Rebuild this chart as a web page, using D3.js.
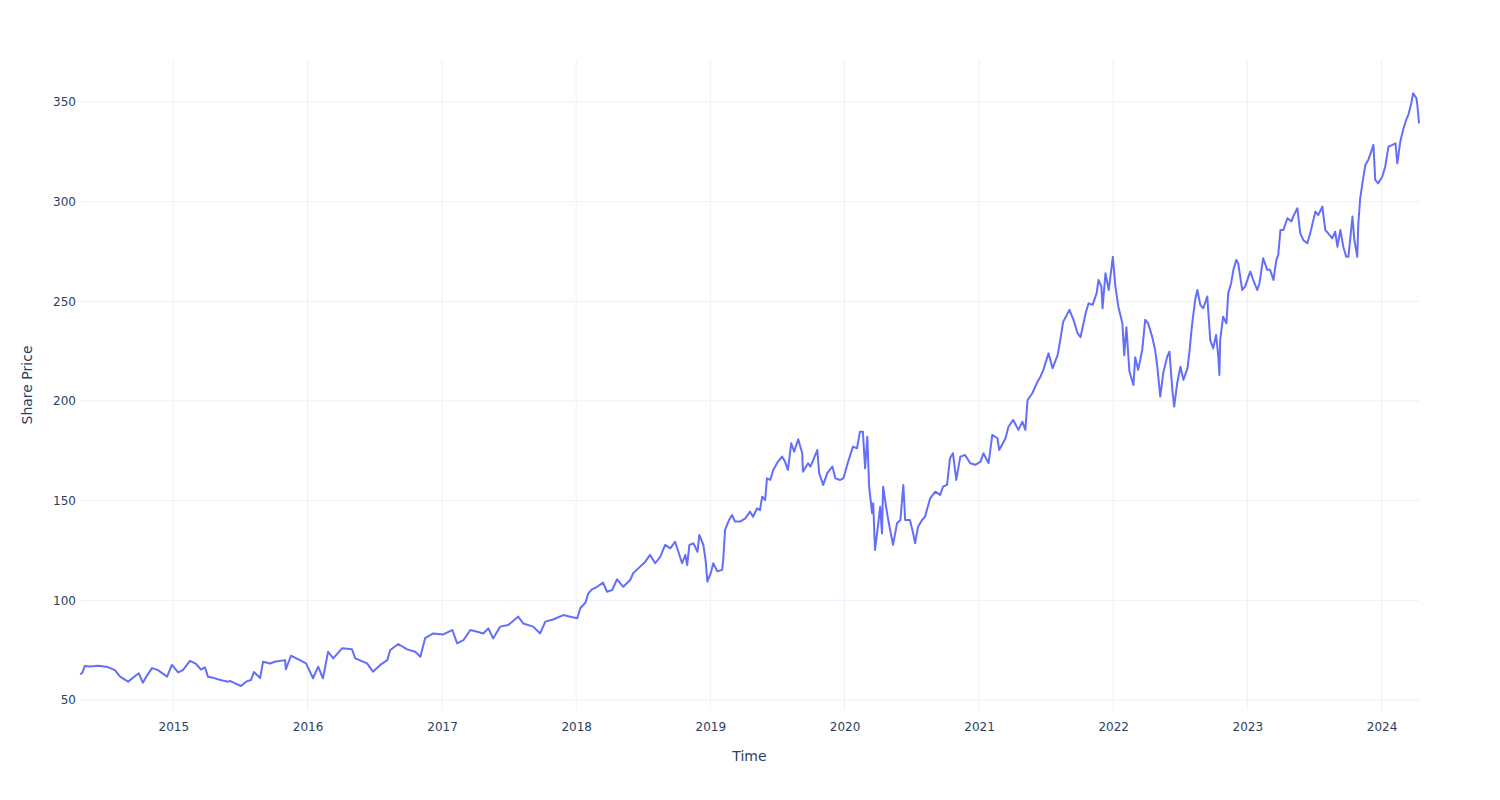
<!DOCTYPE html>
<html>
<head>
<meta charset="utf-8">
<script src="https://cdn.jsdelivr.net/npm/d3@7"></script>
<style>
  body { margin: 0; background: #fff; }
  text { font-family: "DejaVu Sans", verdana, arial, sans-serif; fill: #2a3f5f; }
</style>
</head>
<body>
<div id="app"></div>
<script>
// 日期 (读自图片)
const dates = [
  "2014-04-22","2014-04-28","2014-05-05","2014-05-20","2014-06-10","2014-07-07","2014-07-26","2014-08-09","2014-08-31","2014-09-19","2014-09-29","2014-10-10","2014-10-22","2014-11-04","2014-11-20","2014-12-15","2014-12-28",
  "2015-01-14","2015-01-27","2015-02-15","2015-03-03","2015-03-17","2015-03-28","2015-04-05","2015-04-18","2015-05-02","2015-05-15","2015-05-30","2015-06-05","2015-06-18","2015-07-04","2015-07-18","2015-07-31","2015-08-08","2015-08-25","2015-09-02","2015-09-21","2015-10-04","2015-11-01","2015-11-03","2015-11-17","2015-12-06","2015-12-28",
  "2016-01-16","2016-01-30","2016-02-12","2016-02-26","2016-03-11","2016-04-04","2016-05-01","2016-05-10","2016-06-11","2016-06-27","2016-07-17","2016-08-05","2016-08-13","2016-09-04","2016-09-28","2016-10-20","2016-11-03","2016-11-16","2016-12-08",
  "2017-01-04","2017-01-29","2017-02-11","2017-02-28","2017-03-19","2017-04-07","2017-04-23","2017-05-07","2017-05-20","2017-06-08","2017-06-30","2017-07-27","2017-08-10","2017-09-06","2017-09-25","2017-10-09","2017-10-30","2017-11-27","2017-12-16",
  "2018-01-04","2018-01-12","2018-01-26","2018-02-03","2018-02-13","2018-02-27","2018-03-15","2018-03-26","2018-04-09","2018-04-22","2018-05-09","2018-05-28","2018-06-05","2018-06-24","2018-07-08","2018-07-21","2018-08-04","2018-08-18","2018-08-31","2018-09-14","2018-09-27","2018-10-06","2018-10-16","2018-10-25","2018-10-30","2018-11-05","2018-11-16","2018-11-27","2018-12-02","2018-12-13","2018-12-19","2018-12-24",
  "2019-01-02","2019-01-09","2019-01-20","2019-02-02","2019-02-05","2019-02-10","2019-02-21","2019-03-01","2019-03-09","2019-03-23","2019-04-06","2019-04-19","2019-04-27","2019-05-08","2019-05-16","2019-05-22","2019-05-30","2019-06-04","2019-06-13","2019-06-21","2019-07-04","2019-07-15","2019-07-23","2019-07-31","2019-08-09","2019-08-17","2019-08-28","2019-09-08","2019-09-10","2019-09-24","2019-09-30","2019-10-08","2019-10-19","2019-10-24","2019-11-04","2019-11-15","2019-11-29","2019-12-07","2019-12-20","2019-12-29",
  "2020-01-11","2020-01-24","2020-02-04","2020-02-12","2020-02-20","2020-02-26","2020-03-03","2020-03-08","2020-03-16","2020-03-19","2020-03-24","2020-04-02","2020-04-07","2020-04-12","2020-04-15","2020-04-23","2020-04-29","2020-05-12","2020-05-23","2020-06-01","2020-06-09","2020-06-14","2020-06-27","2020-07-06","2020-07-11","2020-07-19","2020-07-30","2020-08-07","2020-08-21","2020-09-04","2020-09-17","2020-09-25","2020-10-06","2020-10-14","2020-10-22","2020-10-31","2020-11-11","2020-11-24","2020-12-08","2020-12-22",
  "2021-01-05","2021-01-13","2021-01-27","2021-02-06","2021-02-20","2021-02-25","2021-03-14","2021-03-22","2021-04-04","2021-04-18","2021-04-29","2021-05-07","2021-05-13","2021-05-26","2021-06-09","2021-06-17","2021-06-25","2021-07-09","2021-07-20","2021-08-03","2021-08-10","2021-08-18","2021-09-04","2021-09-15","2021-09-26","2021-10-04","2021-10-18","2021-10-26","2021-11-06","2021-11-17","2021-11-22","2021-11-30","2021-12-03","2021-12-11","2021-12-20","2021-12-31",
  "2022-01-07","2022-01-15","2022-01-26","2022-01-31","2022-02-06","2022-02-14","2022-02-25","2022-03-02","2022-03-10","2022-03-21","2022-03-29","2022-04-06","2022-04-17","2022-04-25","2022-05-01","2022-05-09","2022-05-17","2022-05-28","2022-06-03","2022-06-11","2022-06-16","2022-06-24","2022-07-03","2022-07-11","2022-07-22","2022-07-27","2022-08-04","2022-08-12","2022-08-18","2022-08-26","2022-09-03","2022-09-14","2022-09-22","2022-09-30","2022-10-08","2022-10-14","2022-10-17","2022-10-19","2022-10-27","2022-11-05","2022-11-10","2022-11-18","2022-11-24","2022-12-02","2022-12-07","2022-12-18","2022-12-26",
  "2023-01-04","2023-01-09","2023-01-17","2023-01-28","2023-02-03","2023-02-13","2023-02-24","2023-03-04","2023-03-13","2023-03-21","2023-03-26","2023-04-01","2023-04-09","2023-04-20","2023-05-01","2023-05-06","2023-05-17","2023-05-25","2023-06-02","2023-06-13","2023-06-21","2023-07-05","2023-07-13","2023-07-24","2023-08-01","2023-08-09","2023-08-20","2023-08-28","2023-09-03","2023-09-11","2023-09-19","2023-09-27","2023-10-03","2023-10-14","2023-10-19","2023-10-27","2023-10-30","2023-11-04","2023-11-10","2023-11-18","2023-11-26","2023-12-04","2023-12-10","2023-12-15","2023-12-23",
  "2024-01-03","2024-01-11","2024-01-20","2024-01-31","2024-02-08","2024-02-13","2024-02-21","2024-02-29","2024-03-08","2024-03-14","2024-03-22","2024-03-27","2024-04-05","2024-04-08","2024-04-12"
];

// 股价
const prices = [
  63,63.5,67,66.8,67.2,66.5,65,61.7,59.2,62,63.4,58.7,62.5,66,65,61.7,67.6,
  63.9,65,69.6,68.2,65.3,66.4,61.7,61.2,60.4,59.8,59.2,59.5,58.3,57,59.2,60,64,61,69.2,68.3,69.2,70,65.4,72.2,70.5,68.4,
  60.9,66.7,60.9,74.2,70.9,75.9,75.4,70.9,68.4,64.2,67.6,70,75.1,78.1,75.4,74.2,71.7,81,83.4,
  82.9,85.1,78.4,80,85.1,84.2,83.4,85.9,80.9,86.8,87.6,91.8,88.4,86.8,83.4,89.3,90.4,92.6,91.8,
  91,96,98.8,103.5,105.5,106.8,108.9,104.3,105.2,110.5,106.8,110.2,113.6,116.9,119.4,122.8,118.6,121.9,127.8,126.1,129.4,124.4,118.6,122.8,117.7,127.8,128.6,124.4,132.8,127.8,120.2,109.4,
  113.6,118.6,114.5,115.3,120.2,135.3,140.3,142.8,139.5,139.5,141.1,144.5,141.9,146.1,145.3,152,150.3,161.2,160.4,165.4,169.6,172.1,169.6,165.4,178.8,174.6,180.8,173.8,164.5,168.8,167.1,170.4,175.4,163.8,157.9,163.8,167.1,161.2,160.4,161.2,
  169.6,177.1,176.3,184.6,184.6,166.2,182.1,157,143.7,148.7,125.3,138.7,147,133.5,157,147,140.3,127.8,138.7,140.3,157.9,140.3,140.3,133.5,128.6,136.9,140.3,142,151.2,154.5,152.9,157,157.9,171.3,173.8,160.4,172.1,172.9,168.8,168,
  169.6,173.8,168.8,183,181.3,175.4,181.3,187.1,190.5,185.5,189.6,185.5,200.5,203.9,209.7,212.2,215.6,223.9,216.4,223.1,230.6,239.8,245.7,240.7,234,232,244,249,248.2,254.1,260.7,257.4,246.5,264.1,255.7,272.3,
  257.4,247.3,239,223,237,215,208,222,215.6,225.6,240.7,239,232.3,225.6,217.2,202.2,213.9,222.3,224.8,205.5,197.2,208.9,217.2,210.6,216.4,223.9,239,250.7,255.7,248.2,246.5,252.4,230.6,226.4,233.1,222.3,213.1,230.6,242.3,239,254.1,259.1,265.8,270.8,269.1,255.7,257.4,
  262.4,264.9,260.7,255.7,259.1,271.6,265.8,265.8,260.7,270.8,273.3,285.8,285.8,291.7,290.1,292.6,296.7,284.1,280.8,279.1,284.1,295,293.3,297.5,285.8,284.1,281.6,284.9,277.4,285.8,277.4,272.4,272.4,292.5,280.8,272.4,289.2,301.7,309.2,318.4,320.9,325.1,328.5,310.9,309.2,
  312.5,317.5,327.6,328.5,329.3,319.2,330.1,336.2,341,343.5,349.4,354.4,351.9,347.7,339.3
];

// 刻度
const yTicks = [50, 100, 150, 200, 250, 300, 350];
const xTicks = ["2015","2016","2017","2018","2019","2020","2021","2022","2023","2024"];

const parse = d3.timeParse("%Y-%m-%d");
const parseYear = d3.timeParse("%Y");
const data = dates.map((d, i) => ({ date: parse(d), price: prices[i] }));

const wrapper = { width: 1500, height: 800 };
const margin = { left: 80, top: 60, right: 81, bottom: 90 };
const bounds = {
  width: wrapper.width - margin.left - margin.right,
  height: wrapper.height - margin.top - margin.bottom
};

const svg = d3.select('#app')
  .append('svg')
    .attr('width', wrapper.width)
    .attr('height', wrapper.height)

const g = svg.append('g')
  .attr('transform', `translate(${margin.left}, ${margin.top})`)

const x = d3.scaleTime()
  .domain(d3.extent(data, d => d.date))
  .range([0, bounds.width])

const y = d3.scaleLinear()
  .domain([44.98, 371.07])
  .range([bounds.height, 0])

// 网格
g.append('g')
  .selectAll('line')
  .data(xTicks)
  .join('line')
    .attr('x1', d => x(parseYear(d)))
    .attr('x2', d => x(parseYear(d)))
    .attr('y1', 0)
    .attr('y2', bounds.height)
    .attr('stroke', '#ebf0f8')

g.append('g')
  .selectAll('line')
  .data(yTicks)
  .join('line')
    .attr('x1', 0)
    .attr('x2', bounds.width)
    .attr('y1', d => y(d))
    .attr('y2', d => y(d))
    .attr('stroke', '#ebf0f8')

// 坐标轴
const xAxis = d3.axisBottom(x)
  .tickValues(xTicks.map(parseYear))
  .tickFormat(d3.timeFormat("%Y"))
  .tickSize(0)
  .tickPadding(12)

const yAxis = d3.axisLeft(y)
  .tickValues(yTicks)
  .tickSize(0)
  .tickPadding(4)

g.append('g')
  .attr('transform', `translate(0, ${bounds.height})`)
  .call(xAxis)
  .call(s => s.select('.domain').remove())
  .selectAll('text')
    .attr('font-size', 12)
    .attr('font-family', '"DejaVu Sans", verdana, arial, sans-serif')
    .attr('fill', '#2a3f5f')

g.append('g')
  .call(yAxis)
  .call(s => s.select('.domain').remove())
  .selectAll('text')
    .attr('font-size', 12)
    .attr('font-family', '"DejaVu Sans", verdana, arial, sans-serif')
    .attr('fill', '#2a3f5f')

// 折线
const line = d3.line()
  .x(d => x(d.date))
  .y(d => y(d.price))

g.append('path')
  .datum(data)
  .attr('fill', 'none')
  .attr('stroke', '#636efa')
  .attr('stroke-width', 2)
  .attr('stroke-linejoin', 'round')
  .attr('d', line)

// 标题
svg.append('text')
  .attr('x', margin.left + bounds.width / 2)
  .attr('y', 761)
  .attr('text-anchor', 'middle')
  .attr('font-size', 14)
  .text('Time')

svg.append('text')
  .attr('transform', `translate(32, ${margin.top + bounds.height / 2}) rotate(-90)`)
  .attr('text-anchor', 'middle')
  .attr('font-size', 14)
  .text('Share Price')
</script>
</body>
</html>
